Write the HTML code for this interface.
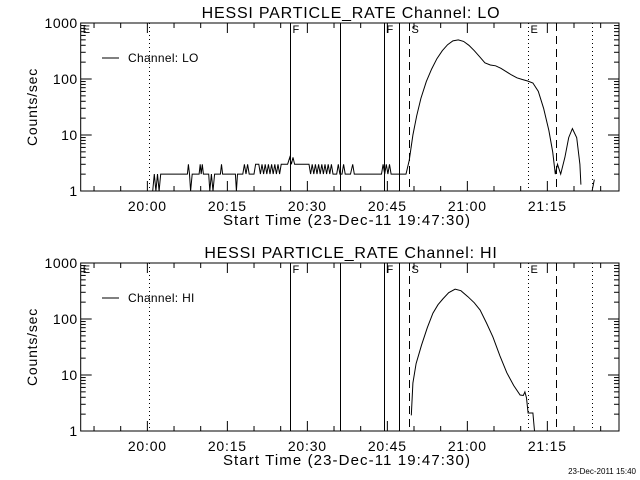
<!DOCTYPE html>
<html><head><meta charset="utf-8"><style>
body{margin:0;background:#fff}
svg{display:block}
text{font-family:"Liberation Sans",sans-serif;fill:#000}
</style></head><body>
<svg id="s" width="640" height="480" viewBox="0 0 640 480"></svg>
<script>
const xTickLabels=["20:00","20:15","20:30","20:45","21:00","21:15"];
const xTickMinutes=[12.5,27.5,42.5,57.5,72.5,87.5];
const yTickLabels=["1","10","100","1000"];
const yTickValues=[1,10,100,1000];
const markerTimes=[12.9,39.2,48.7,56.8,59.6,61.6,83.8,89.2,95.9];
const markerStyles=["dot","solid","solid","solid","solid","dash","dot","dash","dot"];
const markerLabels=["","F","","F","","S","E","",""];
const loTimes=[13.5,13.8,14.1,14.4,14.7,15.0,16.1,20.0,20.2,20.4,20.6,20.9,22.2,22.4,22.6,22.8,23.0,24.0,24.2,24.5,24.8,25.1,26.2,26.4,26.6,29.0,29.2,29.4,30.4,30.7,31.0,31.3,31.6,32.5,32.8,33.4,33.7,34.0,34.3,34.6,34.9,35.2,35.5,35.8,36.1,36.4,36.7,37.0,37.3,37.6,38.8,39.2,39.5,39.8,40.1,41.0,42.8,43.1,43.4,43.7,44.0,44.3,44.6,44.9,45.2,45.5,45.8,46.1,46.4,46.7,47.0,47.3,48.0,48.3,48.6,49.0,49.3,49.6,50.6,51.0,51.3,56.4,56.7,57.0,57.3,57.6,57.9,58.2,58.9,61.0,61.6,62.3,63.0,63.8,64.8,65.8,66.8,67.8,68.8,69.8,70.8,71.8,72.8,73.8,74.8,75.8,76.8,77.8,78.8,79.8,80.8,81.8,82.8,83.8,84.8,85.8,86.8,87.8,88.5,89.0,89.4,90.0,90.8,91.5,92.2,93.0,93.6,93.8];
const loValues=[1,2,1,2,1,2,2,2,3,2,1,2,2,3,2,3,2,2,1,2,1,2,2,3,2,2,1,2,2,3,2,3,2,2,3,3,2,3,2,3,2,3,2,3,2,3,2,3,2,3,3,4,3,4,3,3,3,2,3,2,3,2,3,2,3,2,3,2,3,2,3,2,2,3,2,2,3,2,2,3,2,2,3,2,3,2,3,2,2,2,3.5,10,22,45,90,150,230,320,410,480,500,470,400,320,250,195,178,172,155,135,118,105,98,92,85,60,30,12,5,2,3,2,4,9,13,9,3,1.3,1];
const loTail=[95.9,96.3];
const loTailV=[1,1.6];
const hiTimes=[62.0,62.3,62.9,63.9,65.0,66.05,67.0,67.9,69.0,70.2,71.3,72.6,73.8,74.9,76.1,77.3,78.6,79.9,81.2,82.4,83.0,83.3,83.6,83.9,84.8,85.1];
const hiValues=[1.9,7.2,16,34,70,127,180,228,295,340,320,250,195,145,85,48,22,11,6.5,4.4,4.3,5,3.9,2.1,2.1,1];

const NS="http://www.w3.org/2000/svg";
const svg=document.getElementById('s');
const X0=80.7,PX=5.333,XR=619;
function xs(t){return X0+PX*t;}
function mk(tag,a,parent){const e=document.createElementNS(NS,tag);for(const k in a)e.setAttribute(k,a[k]);(parent||svg).appendChild(e);return e;}
function panel(off,title,legend,times,vals,tailT,tailV,nm){
  const top=23+off,bot=191+off;
  const ys=v=>bot-56*Math.log10(v);
  const g=mk('g',{});
  
  
  const t=mk('text',{x:351,y:off+18,'font-size':16,'letter-spacing':0.8,'text-anchor':'middle'},g);t.textContent=title;
  
  
  const box=mk('rect',{x:X0,y:top,width:XR-X0,height:bot-top,fill:'none',stroke:'#000','stroke-width':1},g);
  
  
  for(let m=2.5;xs(m)<XR;m+=5){
    const major=xTickMinutes.some(v=>Math.abs(v-m)<0.01);const L=major?10:5;
    mk('line',{x1:xs(m),x2:xs(m),y1:bot,y2:bot-L,stroke:'#000'},g);
    mk('line',{x1:xs(m),x2:xs(m),y1:top,y2:top+L,stroke:'#000'},g);
  }
  xTickLabels.forEach((l,i)=>{const e=mk('text',{x:xs(xTickMinutes[i]),y:bot+20,'font-size':14,'letter-spacing':0.8,'text-anchor':'middle'},g);e.textContent=l;
    
    });
  const xt=mk('text',{x:347,y:bot+34,'font-size':15,'letter-spacing':1.1,'text-anchor':'middle'},g);xt.textContent="Start Time (23-Dec-11 19:47:30)";
  
  
  for(let d=0;d<3;d++)for(let k=1;k<10;k++){const v=k*Math.pow(10,d);const L=k==1?11:5;
    mk('line',{x1:X0,x2:X0+L,y1:ys(v),y2:ys(v),stroke:'#000'},g);
    mk('line',{x1:XR,x2:XR-L,y1:ys(v),y2:ys(v),stroke:'#000'},g);}
  yTickLabels.forEach((l,i)=>{const e=mk('text',{x:X0-3,y:ys(yTickValues[i])+5,'font-size':14,'letter-spacing':0.5,'text-anchor':'end'},g);e.textContent=l;
    
    });
  const yt=mk('text',{x:0,y:0,'font-size':14,'letter-spacing':0.8,'text-anchor':'middle',transform:`translate(37,${(top+bot)/2}) rotate(-90)`},g);yt.textContent="Counts/sec";
  
  
  markerTimes.forEach((m,i)=>{const x=Math.round(xs(m))+0.5;const st=markerStyles[i];
    const a={x1:x,x2:x,y1:top,y2:bot,stroke:'#000'};
    if(st=='dot')a['stroke-dasharray']='1,3';if(st=='dash')a['stroke-dasharray']='8,5';
    const e=mk('line',a,g);
    
    
    if(markerLabels[i]){const tx=mk('text',{x:x+2,y:top+10,'font-size':11},g);tx.textContent=markerLabels[i];
      
      }
  });
  const el=mk('text',{x:X0+2,y:top+10,'font-size':11},g);el.textContent="E";
  
  
  const clip=v=>Math.min(bot,ys(Math.max(v,0.9)));
  const p=times.map((tm,i)=>xs(tm).toFixed(1)+','+clip(vals[i]).toFixed(1)).join(' ');
  const pl=mk('polyline',{points:p,fill:'none',stroke:'#000','stroke-width':1},g);
  
  
  if(tailT){const p2=tailT.map((tm,i)=>xs(tm).toFixed(1)+','+clip(tailV[i]).toFixed(1)).join(' ');
    const pl2=mk('polyline',{points:p2,fill:'none',stroke:'#000'},g);
    
    }
  mk('line',{x1:102,x2:119,y1:top+35,y2:top+35,stroke:'#000'},g);
  const lt=mk('text',{x:128,y:top+39,'font-size':12,'letter-spacing':0.3},g);lt.textContent=legend;
  
  
}
panel(0,"HESSI PARTICLE_RATE Channel: LO","Channel: LO",loTimes,loValues,loTail,loTailV,'lo');
panel(240,"HESSI PARTICLE_RATE Channel: HI","Channel: HI",hiTimes,hiValues,null,null,'hi');
const f=mk('text',{x:636,y:474,'font-size':8,'text-anchor':'end'});f.textContent="23-Dec-2011 15:40";


</script>
</body></html>
